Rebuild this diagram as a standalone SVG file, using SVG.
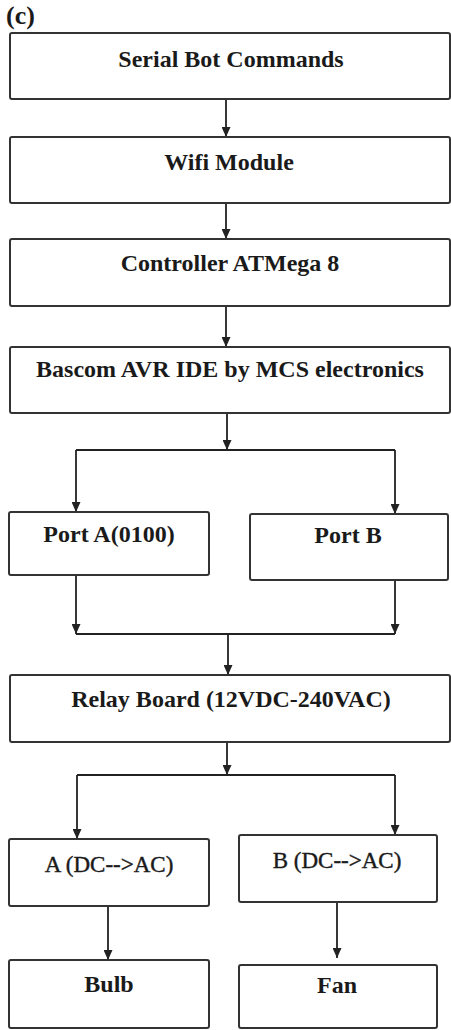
<svg xmlns="http://www.w3.org/2000/svg" width="451" height="1030" viewBox="0 0 451 1030">
<style>
.box{fill:#fff;stroke:#333;stroke-width:2}
.t{font-family:"Liberation Serif","Times New Roman",serif;font-weight:bold;font-size:24px;fill:#1a1a1a;text-anchor:middle}
.tn{font-weight:normal;font-size:23px;stroke:#1a1a1a;stroke-width:0.4}
.c{fill:none;stroke:#222;stroke-width:1.8}
</style>
<defs>
<marker id="a" markerUnits="userSpaceOnUse" markerWidth="9" markerHeight="10" viewBox="0 0 9 10" refX="4.5" refY="10" orient="0">
<path d="M0,0 L9,0 L4.5,10 Z" fill="#222"/>
</marker>
</defs>
<text x="6" y="24" style="font-family:'Liberation Serif',serif;font-weight:bold;font-size:26px;fill:#1a1a1a">(c)</text>
<g id="connectors">
<path class="c" d="M226,99 V137" marker-end="url(#a)"/>
<path class="c" d="M226,203 V239" marker-end="url(#a)"/>
<path class="c" d="M226,306 V347" marker-end="url(#a)"/>
<path class="c" d="M227,413 V450" marker-end="url(#a)"/>
<path class="c" d="M76,450 H395"/>
<path class="c" d="M76,450 V512" marker-end="url(#a)"/>
<path class="c" d="M395,450 V514" marker-end="url(#a)"/>
<path class="c" d="M76,575 V634" marker-end="url(#a)"/>
<path class="c" d="M395,580 V634" marker-end="url(#a)"/>
<path class="c" d="M76,634 H395"/>
<path class="c" d="M228,634 V675" marker-end="url(#a)"/>
<path class="c" d="M227,742 V775" marker-end="url(#a)"/>
<path class="c" d="M77,775 H395"/>
<path class="c" d="M77,775 V839" marker-end="url(#a)"/>
<path class="c" d="M395,775 V835" marker-end="url(#a)"/>
<path class="c" d="M108,906 V960" marker-end="url(#a)"/>
<path class="c" d="M337,902 V958" marker-end="url(#a)"/>
</g>
<g id="serial"><rect class="box" x="10" y="33" width="440" height="66" rx="2"/><text class="t" x="231" y="67">Serial Bot Commands</text></g>
<g id="wifi"><rect class="box" x="10" y="137" width="440" height="66" rx="2"/><text class="t" x="229" y="170">Wifi Module</text></g>
<g id="controller"><rect class="box" x="10" y="239" width="440" height="67" rx="2"/><text class="t" x="230" y="271">Controller ATMega 8</text></g>
<g id="bascom"><rect class="box" x="10" y="347" width="440" height="66" rx="2"/><text class="t" x="230" y="377">Bascom AVR IDE by MCS electronics</text></g>
<g id="portA"><rect class="box" x="9" y="512" width="200" height="63" rx="2"/><text class="t" x="109" y="542">Port A(0100)</text></g>
<g id="portB"><rect class="box" x="250" y="514" width="198" height="66" rx="2"/><text class="t" x="348" y="543">Port B</text></g>
<g id="relay"><rect class="box" x="10" y="675" width="440" height="67" rx="2"/><text class="t" x="231" y="707">Relay Board (12VDC-240VAC)</text></g>
<g id="convA"><rect class="box" x="9" y="839" width="200" height="67" rx="2"/><text class="t tn" x="109" y="872">A (DC--&gt;AC)</text></g>
<g id="convB"><rect class="box" x="239" y="835" width="198" height="67" rx="2"/><text class="t tn" x="337" y="868">B (DC--&gt;AC)</text></g>
<g id="bulb"><rect class="box" x="9" y="960" width="200" height="68" rx="2"/><text class="t" x="109" y="992">Bulb</text></g>
<g id="fan"><rect class="box" x="239" y="965" width="198" height="63" rx="2"/><text class="t" x="337" y="993">Fan</text></g>
</svg>
